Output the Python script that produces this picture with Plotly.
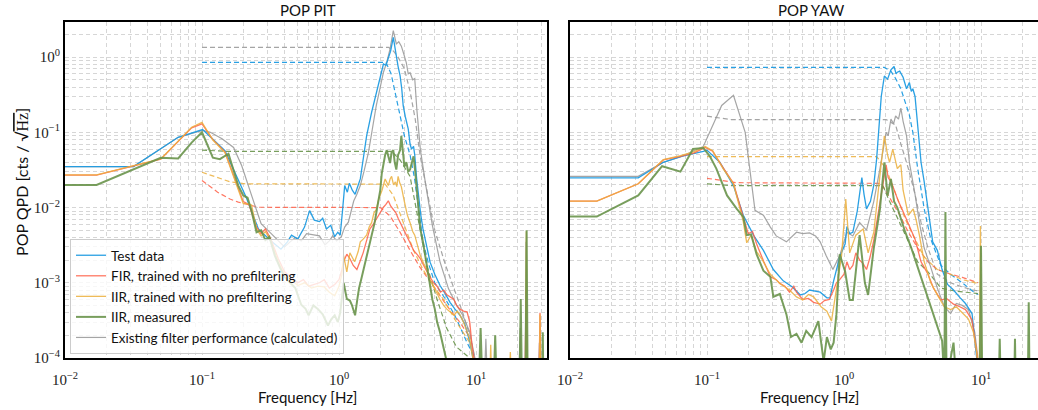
import plotly.graph_objects as go

# ---------------- POP PIT (left panel) ----------------
PIT_TEST_F = [0.01, 0.0316, 0.067, 0.101, 0.147, 0.184, 0.21, 0.258, 0.313, 0.377, 0.42, 0.45, 0.5, 0.56, 0.61, 0.66, 0.72, 0.76, 0.81, 0.87, 0.93, 0.98, 1.02, 1.06, 1.1, 1.15, 1.19, 1.25, 1.31, 1.43, 1.5, 1.59, 1.73, 1.85, 1.94, 2.03, 2.11, 2.2, 2.29, 2.38, 2.49, 2.55, 2.62, 2.7, 2.79, 2.87, 2.94, 3.05, 3.2, 3.3, 3.38, 3.5, 3.57, 3.68, 3.79, 3.95, 4.1, 4.35, 4.62, 5.0, 5.46, 6.0, 6.46, 7.0, 7.64, 8.3, 9.04, 9.6, 32]
PIT_TEST_V = [0.035, 0.035, 0.086, 0.109, 0.057, 0.024, 0.0137, 0.0052, 0.0037, 0.0028, 0.0035, 0.0043, 0.0038, 0.0055, 0.0091, 0.0068, 0.0065, 0.0072, 0.0052, 0.0058, 0.0041, 0.0047, 0.0043, 0.009, 0.0196, 0.016, 0.021, 0.017, 0.015, 0.024, 0.045, 0.09, 0.185, 0.3, 0.46, 0.62, 0.81, 0.78, 0.95, 1.2, 1.83, 1.3, 1.04, 0.75, 0.57, 0.38, 0.226, 0.16, 0.111, 0.07, 0.06, 0.065, 0.05, 0.025, 0.0145, 0.008, 0.0052, 0.003, 0.00188, 0.0013, 0.00092, 0.0007, 0.00055, 0.00045, 0.00037, 0.00028, 0.00016, 0.00009, 0.00005]

PIT_FIR_F = [0.01, 0.017, 0.05, 0.084, 0.1, 0.12, 0.147, 0.173, 0.2, 0.22, 0.25, 0.27, 0.29, 0.32, 0.36, 0.4, 0.44, 0.5, 0.55, 0.6, 0.66, 0.72, 0.78, 0.85, 0.93, 1.0, 1.04, 1.08, 1.14, 1.2, 1.27, 1.35, 1.42, 1.5, 1.58, 1.68, 1.78, 1.87, 1.97, 2.05, 2.11, 2.2, 2.29, 2.38, 2.49, 2.6, 2.7, 2.79, 2.9, 3.0, 3.1, 3.3, 3.5, 3.7, 3.92, 4.15, 4.38, 4.6, 4.9, 5.2, 5.5, 5.8, 6.1, 6.5, 6.9, 7.2, 7.6, 8.1, 8.6, 9.0, 9.3, 9.8, 22.8, 23.2, 23.6, 28.8, 29.3, 29.8, 32]
PIT_FIR_V = [0.027, 0.027, 0.044, 0.115, 0.13, 0.08, 0.055, 0.025, 0.012, 0.011, 0.0055, 0.0045, 0.0052, 0.0037, 0.0021, 0.0014, 0.0012, 0.001, 0.0011, 0.0009, 0.00095, 0.001, 0.0011, 0.00085, 0.00095, 0.0011, 0.0014, 0.0019, 0.0024, 0.0021, 0.0017, 0.0015, 0.0019, 0.0025, 0.0035, 0.0052, 0.006, 0.007, 0.0085, 0.0095, 0.0101, 0.011, 0.0123, 0.0105, 0.0095, 0.0085, 0.0072, 0.0063, 0.0055, 0.0048, 0.0043, 0.0034, 0.0027, 0.0024, 0.0021, 0.0017, 0.0014, 0.0012, 0.001, 0.0009, 0.00075, 0.0008, 0.0007, 0.00065, 0.0006, 0.0005, 0.00045, 0.00042, 0.00041, 0.0003, 0.00016, 0.00008, 0.00005, 0.0008, 0.00005, 0.00005, 0.0004, 0.00005, 0.00005]

PIT_IIR_F = [0.01, 0.017, 0.05, 0.084, 0.1, 0.12, 0.147, 0.173, 0.2, 0.215, 0.23, 0.25, 0.27, 0.29, 0.32, 0.36, 0.4, 0.45, 0.5, 0.56, 0.63, 0.7, 0.78, 0.85, 0.93, 1.0, 1.05, 1.08, 1.14, 1.2, 1.3, 1.38, 1.43, 1.5, 1.59, 1.66, 1.73, 1.8, 1.87, 1.95, 2.06, 2.17, 2.23, 2.29, 2.36, 2.42, 2.5, 2.58, 2.64, 2.7, 2.78, 2.85, 3.0, 3.15, 3.3, 3.45, 3.57, 3.75, 3.92, 4.15, 4.38, 4.6, 4.9, 5.2, 5.46, 5.8, 6.1, 6.5, 6.9, 7.3, 7.6, 8.1, 8.6, 9.0, 9.3, 9.8, 12.6, 12.8, 13.0, 17.5, 17.8, 18.1, 23.0, 23.3, 23.6, 29.0, 29.3, 29.6, 32]
PIT_IIR_V = [0.0272, 0.0272, 0.0443, 0.117, 0.136, 0.079, 0.054, 0.024, 0.0113, 0.0113, 0.0108, 0.0052, 0.0042, 0.0048, 0.0035, 0.0019, 0.0013, 0.0011, 0.00092, 0.001, 0.00085, 0.0009, 0.00088, 0.00075, 0.00067, 0.0009, 0.0013, 0.0023, 0.0014, 0.0025, 0.0019, 0.0026, 0.0035, 0.0038, 0.0043, 0.0055, 0.0063, 0.0085, 0.0094, 0.013, 0.017, 0.024, 0.021, 0.0196, 0.024, 0.026, 0.02, 0.022, 0.019, 0.026, 0.021, 0.019, 0.012, 0.008, 0.0063, 0.0048, 0.0043, 0.003, 0.0023, 0.0018, 0.0015, 0.0011, 0.0009, 0.00072, 0.0006, 0.0005, 0.00045, 0.0004, 0.00037, 0.00042, 0.00038, 0.0003, 0.00022, 0.00018, 0.00012, 0.00007, 0.00005, 0.00015, 0.00005, 0.00005, 0.00012, 0.00005, 0.00005, 0.0048, 0.00005, 0.00005, 0.00038, 0.00005, 0.00005]

PIT_MEAS_F = [0.01, 0.017, 0.05, 0.067, 0.084, 0.1, 0.12, 0.135, 0.156, 0.184, 0.2, 0.215, 0.23, 0.25, 0.27, 0.29, 0.31, 0.34, 0.37, 0.4, 0.44, 0.48, 0.53, 0.57, 0.6, 0.65, 0.7, 0.76, 0.83, 0.88, 0.93, 0.98, 1.02, 1.08, 1.14, 1.2, 1.24, 1.31, 1.36, 1.4, 1.45, 1.51, 1.6, 1.68, 1.75, 1.82, 1.9, 2.0, 2.05, 2.11, 2.17, 2.23, 2.3, 2.36, 2.42, 2.49, 2.55, 2.62, 2.7, 2.79, 2.85, 2.92, 3.0, 3.1, 3.2, 3.3, 3.4, 3.5, 3.6, 3.7, 3.8, 3.92, 4.1, 4.26, 4.45, 4.6, 4.8, 5.0, 5.2, 5.46, 5.7, 5.9, 6.2, 10.5, 10.8, 11.1, 13.5, 13.8, 14.1, 20.8, 21.2, 21.6, 23.0, 23.4, 23.8, 30.4, 30.7, 31.0, 32]
PIT_MEAS_V = [0.02, 0.02, 0.046, 0.045, 0.073, 0.1, 0.046, 0.044, 0.052, 0.0196, 0.0145, 0.0135, 0.009, 0.0047, 0.005, 0.0037, 0.0041, 0.0023, 0.0016, 0.0012, 0.001, 0.00085, 0.00051, 0.00045, 0.00037, 0.0005, 0.00045, 0.00038, 0.00027, 0.00033, 0.00037, 0.0003, 0.0004, 0.001, 0.00061, 0.00058, 0.00051, 0.00037, 0.0006, 0.00085, 0.0011, 0.0015, 0.0025, 0.0037, 0.005, 0.0063, 0.01, 0.017, 0.028, 0.039, 0.05, 0.058, 0.045, 0.039, 0.055, 0.058, 0.04, 0.032, 0.05, 0.058, 0.09, 0.05, 0.035, 0.04, 0.03, 0.032, 0.038, 0.048, 0.03, 0.017, 0.009, 0.0052, 0.0035, 0.0023, 0.0014, 0.0009, 0.0006, 0.00045, 0.0003, 0.00022, 0.00015, 0.00011, 0.00008, 0.00005, 0.00025, 0.00005, 0.00005, 0.0002, 0.00005, 0.00005, 0.00061, 0.00005, 0.00005, 0.005, 0.00005, 0.00005, 0.00022, 0.00005, 0.00005]

PIT_EXIST_F = [0.01, 0.0316, 0.067, 0.101, 0.115, 0.14, 0.17, 0.195, 0.23, 0.27, 0.32, 0.36, 0.4, 0.44, 0.48, 0.53, 0.58, 0.67, 0.72, 0.79, 0.85, 0.9, 0.96, 1.04, 1.1, 1.17, 1.28, 1.35, 1.43, 1.52, 1.64, 1.75, 1.87, 2.0, 2.11, 2.23, 2.36, 2.49, 2.62, 2.73, 2.85, 2.97, 3.1, 3.2, 3.3, 3.45, 3.57, 3.7, 3.92, 4.26, 4.8, 5.46, 6.3, 7.24, 8.0, 9.0, 9.8, 11.5, 11.8, 12.1, 20.5, 21.0, 21.5, 22.8, 23.2, 23.6, 28.5, 29.0, 29.5, 32]
PIT_EXIST_V = [0.035, 0.035, 0.086, 0.106, 0.1, 0.082, 0.063, 0.036, 0.0145, 0.0061, 0.0045, 0.0036, 0.003, 0.0035, 0.004, 0.0036, 0.0045, 0.0043, 0.0042, 0.0032, 0.0036, 0.0042, 0.0036, 0.0041, 0.0055, 0.0064, 0.0122, 0.015, 0.0196, 0.03, 0.054, 0.11, 0.226, 0.4, 0.63, 0.85, 1.3, 2.25, 1.5, 1.6, 1.4, 1.1, 0.84, 0.6, 0.62, 0.5, 0.52, 0.2, 0.06, 0.022, 0.0058, 0.0019, 0.00083, 0.0005, 0.00037, 0.00022, 0.0001, 0.00005, 0.00018, 0.00005, 0.00005, 0.00025, 0.00005, 0.00005, 0.0035, 0.00005, 0.00005, 0.00016, 0.00005, 0.00005]

# cumulative (dashed) curves, PIT
PIT_TEST_CUM_F = [0.1, 2.2, 2.4, 2.6, 2.8, 3.0, 3.3, 3.55, 3.8, 4.1, 4.5, 5.0, 6.0, 7.0, 8.6, 9.8]
PIT_TEST_CUM_V = [0.85, 0.85, 0.6, 0.3, 0.15, 0.09, 0.05, 0.025, 0.01, 0.0035, 0.0018, 0.001, 0.0006, 0.00037, 0.00016, 0.0001]
PIT_FIR_CUM_F = [0.1, 0.13, 0.16, 0.184, 0.258, 2.0, 2.36, 2.79, 3.3, 3.9, 4.9, 6.1, 7.6, 9.0]
PIT_FIR_CUM_V = [0.0229, 0.016, 0.013, 0.0118, 0.0101, 0.01, 0.0077, 0.0047, 0.0027, 0.0016, 0.0009, 0.0005, 0.0003, 0.00019]
PIT_IIR_CUM_F = [0.1, 0.13, 0.16, 0.207, 2.17, 2.49, 2.94, 3.5, 4.1, 4.9, 5.8, 7.2, 9.0]
PIT_IIR_CUM_V = [0.0295, 0.025, 0.022, 0.0207, 0.0205, 0.0145, 0.0063, 0.0027, 0.0015, 0.0009, 0.0006, 0.0003, 0.00016]
PIT_MEAS_CUM_F = [0.1, 0.15, 2.42, 2.79, 3.3, 3.8, 4.38, 5.2, 6.1, 7.2, 9.0]
PIT_MEAS_CUM_V = [0.058, 0.056, 0.056, 0.043, 0.026, 0.0063, 0.0017, 0.0006, 0.00025, 0.00014, 0.0001]
PIT_EXIST_CUM_F = [0.1, 2.3, 2.5, 2.7, 3.0, 3.3, 3.6, 3.9, 4.3, 5.0, 6.0, 7.0, 8.0, 9.0, 9.8]
PIT_EXIST_CUM_V = [1.35, 1.35, 1.2, 1.0, 0.7, 0.35, 0.15, 0.05, 0.02, 0.005, 0.0017, 0.0008, 0.0004, 0.0002, 0.0001]

# ---------------- POP YAW (right panel) ----------------
YAW_TEST_F = [0.01, 0.0315, 0.048, 0.064, 0.094, 0.1, 0.124, 0.156, 0.184, 0.22, 0.258, 0.305, 0.36, 0.42, 0.48, 0.52, 0.56, 0.62, 0.67, 0.75, 0.79, 0.84, 0.885, 0.93, 1.02, 1.05, 1.1, 1.16, 1.25, 1.35, 1.4, 1.46, 1.56, 1.65, 1.73, 1.8, 1.87, 1.97, 2.08, 2.2, 2.32, 2.4, 2.45, 2.55, 2.7, 2.86, 3.0, 3.1, 3.18, 3.3, 3.45, 3.65, 3.85, 4.1, 4.44, 4.8, 5.2, 5.7, 6.3, 7.0, 7.7, 8.6, 9.3, 10.0]
YAW_TEST_V = [0.0248, 0.0248, 0.04, 0.0475, 0.056, 0.058, 0.04, 0.0196, 0.0079, 0.0042, 0.0027, 0.0015, 0.00106, 0.00088, 0.00069, 0.00072, 0.0008, 0.00078, 0.00075, 0.00063, 0.00063, 0.00106, 0.0015, 0.0022, 0.0033, 0.0056, 0.0045, 0.0047, 0.009, 0.025, 0.015, 0.0096, 0.0121, 0.02, 0.044, 0.12, 0.3, 0.56, 0.51, 0.68, 0.75, 0.6, 0.63, 0.65, 0.54, 0.38, 0.46, 0.35, 0.38, 0.3, 0.11, 0.04, 0.022, 0.0096, 0.0035, 0.0027, 0.0015, 0.00095, 0.0008, 0.00064, 0.00053, 0.00039, 0.0001, 0.00005]

YAW_FIR_F = [0.01, 0.0157, 0.0315, 0.048, 0.064, 0.08, 0.097, 0.11, 0.131, 0.156, 0.184, 0.2, 0.215, 0.23, 0.26, 0.29, 0.32, 0.34, 0.37, 0.4, 0.43, 0.45, 0.5, 0.55, 0.6, 0.67, 0.72, 0.78, 0.84, 0.88, 0.93, 1.0, 1.05, 1.1, 1.16, 1.22, 1.3, 1.38, 1.46, 1.55, 1.65, 1.75, 1.83, 1.92, 2.03, 2.1, 2.2, 2.3, 2.38, 2.5, 2.65, 2.8, 2.95, 3.1, 3.3, 3.45, 3.65, 3.85, 4.1, 4.5, 5.1, 5.6, 6.3, 7.0, 7.7, 8.6, 9.3, 9.7, 32]
YAW_FIR_V = [0.0122, 0.0122, 0.0207, 0.043, 0.048, 0.053, 0.063, 0.056, 0.034, 0.021, 0.0075, 0.0045, 0.0048, 0.0033, 0.0019, 0.0012, 0.0011, 0.00098, 0.0009, 0.00075, 0.0009, 0.00075, 0.0006, 0.00062, 0.00055, 0.00052, 0.00058, 0.0006, 0.0008, 0.001, 0.0011, 0.0013, 0.0019, 0.0015, 0.0017, 0.0025, 0.002, 0.0018, 0.0015, 0.0022, 0.0037, 0.007, 0.013, 0.02, 0.037, 0.025, 0.022, 0.018, 0.015, 0.012, 0.0096, 0.0075, 0.0063, 0.005, 0.0038, 0.0028, 0.0019, 0.0016, 0.0013, 0.00085, 0.00059, 0.00062, 0.00052, 0.00048, 0.00044, 0.00032, 0.00012, 0.00005, 0.00005]

YAW_IIR_F = [0.01, 0.0157, 0.0315, 0.048, 0.064, 0.08, 0.097, 0.11, 0.131, 0.156, 0.184, 0.195, 0.21, 0.23, 0.25, 0.29, 0.34, 0.4, 0.45, 0.5, 0.55, 0.6, 0.68, 0.75, 0.81, 0.885, 0.96, 1.03, 1.1, 1.22, 1.38, 1.5, 1.65, 1.83, 1.97, 2.08, 2.15, 2.27, 2.35, 2.45, 2.6, 2.7, 2.95, 3.2, 3.35, 3.55, 3.85, 4.3, 4.8, 5.4, 6.0, 6.6, 7.3, 8.1, 8.8, 9.3, 9.7, 9.9, 10.1, 32]
YAW_IIR_V = [0.0122, 0.0122, 0.0207, 0.0434, 0.049, 0.055, 0.0649, 0.057, 0.033, 0.0207, 0.0065, 0.0034, 0.0043, 0.0026, 0.0021, 0.0013, 0.00098, 0.0008, 0.00065, 0.00059, 0.0007, 0.00065, 0.00048, 0.00042, 0.00031, 0.00085, 0.0023, 0.013, 0.0025, 0.0043, 0.0052, 0.0025, 0.0047, 0.027, 0.09, 0.05, 0.04, 0.06, 0.045, 0.033, 0.037, 0.017, 0.0079, 0.0096, 0.007, 0.0043, 0.0019, 0.001, 0.00069, 0.00048, 0.00044, 0.00048, 0.0004, 0.00033, 0.00022, 0.00012, 0.00005, 0.0057, 0.00005, 0.00005]

YAW_MEAS_F = [0.01, 0.0157, 0.0315, 0.047, 0.064, 0.079, 0.094, 0.105, 0.117, 0.14, 0.165, 0.184, 0.195, 0.21, 0.23, 0.258, 0.29, 0.305, 0.34, 0.38, 0.41, 0.45, 0.49, 0.53, 0.58, 0.65, 0.71, 0.75, 0.8, 0.84, 0.88, 0.93, 1.02, 1.1, 1.16, 1.3, 1.42, 1.5, 1.65, 1.83, 1.97, 2.08, 2.2, 2.32, 2.45, 2.55, 2.8, 3.1, 3.45, 3.85, 4.3, 4.8, 5.2, 5.4, 5.5, 5.6, 6.3, 6.6, 9.8, 10.0, 10.2, 13.5, 13.7, 13.9, 17.5, 17.7, 17.9, 22.0, 22.3, 22.6, 32]
YAW_MEAS_V = [0.0076, 0.0076, 0.0145, 0.0355, 0.03, 0.06, 0.062, 0.048, 0.033, 0.0145, 0.0096, 0.0075, 0.0043, 0.0044, 0.0024, 0.00145, 0.0012, 0.00065, 0.00071, 0.00038, 0.00019, 0.00021, 0.00016, 0.00023, 0.00019, 0.00031, 0.00009, 0.00019, 0.00013, 0.00016, 0.00038, 0.0024, 0.0014, 0.00059, 0.00059, 0.0043, 0.001, 0.00069, 0.0029, 0.0096, 0.04, 0.0145, 0.024, 0.0121, 0.01, 0.0079, 0.0047, 0.0029, 0.0016, 0.00085, 0.00048, 0.00026, 0.00017, 0.00005, 0.0087, 0.00005, 0.00016, 0.00005, 0.00005, 0.0031, 0.00005, 0.00005, 0.00018, 0.00005, 0.00005, 0.00018, 0.00005, 0.00005, 0.00055, 0.00005, 0.00005]

YAW_EXIST_F = [0.01, 0.0315, 0.048, 0.064, 0.094, 0.128, 0.156, 0.19, 0.224, 0.258, 0.29, 0.32, 0.38, 0.45, 0.5, 0.56, 0.62, 0.67, 0.74, 0.83, 0.93, 1.05, 1.16, 1.3, 1.46, 1.65, 1.83, 1.95, 2.03, 2.1, 2.2, 2.3, 2.38, 2.5, 2.6, 2.7, 2.86, 3.0, 3.15, 3.3, 3.55, 3.85, 4.3, 4.8, 5.4, 6.0, 6.6, 7.3, 8.1, 9.0, 9.5, 10.0]
YAW_EXIST_V = [0.026, 0.026, 0.04, 0.047, 0.065, 0.228, 0.31, 0.1, 0.0092, 0.0079, 0.0055, 0.0042, 0.0035, 0.0047, 0.0045, 0.0046, 0.0042, 0.0035, 0.0023, 0.0015, 0.0023, 0.0047, 0.0042, 0.0063, 0.005, 0.0121, 0.033, 0.07, 0.1, 0.09, 0.15, 0.13, 0.165, 0.15, 0.21, 0.14, 0.09, 0.04, 0.025, 0.015, 0.0063, 0.0029, 0.0016, 0.00085, 0.00048, 0.00039, 0.00053, 0.0005, 0.00044, 0.00022, 0.0001, 0.00005]

YAW_TEST_CUM_F = [0.1, 1.97, 2.2, 2.38, 2.6, 2.8, 3.0, 3.18, 3.45, 3.85, 4.3, 5.1, 6.0, 7.3, 8.8, 9.5]
YAW_TEST_CUM_V = [0.73, 0.73, 0.65, 0.52, 0.38, 0.255, 0.17, 0.1, 0.033, 0.0096, 0.0038, 0.0017, 0.0013, 0.001, 0.00076, 0.0007]
YAW_FIR_CUM_F = [0.1, 0.165, 1.87, 2.15, 2.55, 2.95, 3.45, 4.1, 4.8, 6.0, 7.3, 8.8, 9.5]
YAW_FIR_CUM_V = [0.0245, 0.0214, 0.021, 0.0135, 0.008, 0.0047, 0.0029, 0.0019, 0.0015, 0.0013, 0.00118, 0.00105, 0.001]
YAW_IIR_CUM_F = [0.1, 1.73, 2.03, 2.38, 2.8, 3.3, 3.85, 4.8, 6.0, 7.3, 8.8, 9.5]
YAW_IIR_CUM_V = [0.0476, 0.0476, 0.033, 0.015, 0.007, 0.0038, 0.0022, 0.0015, 0.0013, 0.0011, 0.001, 0.00098]
YAW_MEAS_CUM_F = [0.1, 0.15, 1.92, 2.15, 2.55, 2.95, 3.45, 4.1, 5.1, 6.6, 8.8, 9.5]
YAW_MEAS_CUM_V = [0.0207, 0.0196, 0.0196, 0.0121, 0.0063, 0.0035, 0.0019, 0.0014, 0.00085, 0.00077, 0.00073, 0.00072]
YAW_EXIST_CUM_F = [0.1, 0.15, 2.03, 2.38, 2.6, 2.95, 3.3, 3.65, 4.1, 4.8, 6.0, 7.3, 8.8, 9.5]
YAW_EXIST_CUM_V = [0.164, 0.148, 0.148, 0.125, 0.07, 0.033, 0.015, 0.0063, 0.0029, 0.0013, 0.001, 0.00088, 0.0008, 0.00078]

LABELS = ["Test data", "FIR, trained with no prefiltering", "IIR, trained with no prefiltering",
          "IIR, measured", "Existing filter performance (calculated)"]
X_TICKS = [0.01, 0.1, 1, 10]
X_TICKTEXT = ["10<sup>\u22122</sup>", "10<sup>\u22121</sup>", "10<sup>0</sup>", "10<sup>1</sup>"]
Y_TICKS = [1e-4, 1e-3, 1e-2, 1e-1, 1]
Y_TICKTEXT = ["10<sup>\u22124</sup>", "10<sup>\u22123</sup>", "10<sup>\u22122</sup>", "10<sup>\u22121</sup>", "10<sup>0</sup>"]

COLORS = ["rgba(30,155,225,0.95)", "rgba(255,95,70,0.85)", "rgba(235,175,60,0.85)",
          "rgba(105,148,75,0.9)", "rgba(155,155,155,0.9)"]
WIDTHS = [1.3, 1.3, 1.3, 2.0, 1.2]

fig = go.Figure()

panels = [
    ("x", "y", [(PIT_EXIST_F, PIT_EXIST_V), (PIT_TEST_F, PIT_TEST_V), (PIT_FIR_F, PIT_FIR_V),
                (PIT_IIR_F, PIT_IIR_V), (PIT_MEAS_F, PIT_MEAS_V)],
     [(PIT_EXIST_CUM_F, PIT_EXIST_CUM_V), (PIT_TEST_CUM_F, PIT_TEST_CUM_V), (PIT_FIR_CUM_F, PIT_FIR_CUM_V),
      (PIT_IIR_CUM_F, PIT_IIR_CUM_V), (PIT_MEAS_CUM_F, PIT_MEAS_CUM_V)], True),
    ("x2", "y2", [(YAW_EXIST_F, YAW_EXIST_V), (YAW_TEST_F, YAW_TEST_V), (YAW_FIR_F, YAW_FIR_V),
                  (YAW_IIR_F, YAW_IIR_V), (YAW_MEAS_F, YAW_MEAS_V)],
     [(YAW_EXIST_CUM_F, YAW_EXIST_CUM_V), (YAW_TEST_CUM_F, YAW_TEST_CUM_V), (YAW_FIR_CUM_F, YAW_FIR_CUM_V),
      (YAW_IIR_CUM_F, YAW_IIR_CUM_V), (YAW_MEAS_CUM_F, YAW_MEAS_CUM_V)], False),
]
order = [4, 0, 1, 2, 3]  # series index for each position in the lists (exist, test, fir, iir, meas)

for xa, ya, solids, dashes, show in panels:
    for pos, (fx, vy) in enumerate(dashes):
        k = order[pos]
        fig.add_trace(go.Scatter(x=fx, y=vy, mode="lines", xaxis=xa, yaxis=ya, showlegend=False,
                                 line=dict(color=COLORS[k], width=1.2, dash="5px,3px")))
    for pos, (fx, vy) in enumerate(solids):
        k = order[pos]
        fig.add_trace(go.Scatter(x=fx, y=vy, mode="lines", xaxis=xa, yaxis=ya, name=LABELS[k],
                                 showlegend=show, legendrank=k + 1,
                                 line=dict(color=COLORS[k], width=WIDTHS[k])))

W, H = 1038, 410
ML, MT, MB = 65, 22, 52
PW = W - ML
grid = dict(gridcolor="#d6d6d6", griddash="4px,3px", gridwidth=1)
tickfont = dict(family="Liberation Serif", size=15, color="#222")
SANS = "Lato"

def xax(domain, rng, mirror):
    return dict(type="log", domain=domain, range=rng, showline=True, linecolor="black", linewidth=2,
                mirror=mirror, ticks="", tickvals=X_TICKS, ticktext=X_TICKTEXT, tickfont=tickfont,
                ticklabelstandoff=7,
                showgrid=True, **grid, minor=dict(dtick="D1", showgrid=True, **grid), zeroline=False)

def yax(anchor, show_labels, mirror):
    return dict(type="log", range=[-4, 0.467], anchor=anchor, showline=True, linecolor="black", linewidth=2,
                mirror=mirror, ticks="", tickvals=Y_TICKS, ticktext=Y_TICKTEXT, tickfont=tickfont,
                showticklabels=show_labels, showgrid=True, **grid,
                minor=dict(dtick="D1", showgrid=True, **grid), zeroline=False)

x1dom = [0, (547 - ML) / PW]
x2dom = [(570 - ML) / PW, 1.0]
fig.update_layout(
    width=W, height=H, margin=dict(l=ML, r=0, t=MT, b=MB),
    paper_bgcolor="white", plot_bgcolor="white",
    xaxis=xax(x1dom, [-2, 1.518], True),
    xaxis2=xax(x2dom, [-2, 1.416], True),
    yaxis=yax("x", True, True),
    yaxis2=yax("x2", False, False),
    legend=dict(x=5 / PW, y=0.012, xanchor="left", yanchor="bottom",
                bgcolor="rgba(255,255,255,0.8)", bordercolor="#cccccc", borderwidth=1,
                font=dict(family=SANS, size=13.5, color="#111"), tracegroupgap=0),
    font=dict(family=SANS, color="#111"),
)

ann_font = dict(family=SANS, size=15, color="#111")
fig.add_annotation(text="POP PIT", xref="paper", yref="paper", x=(308 - ML) / PW, y=1, xanchor="center",
                   yanchor="bottom", yshift=1, showarrow=False, font=ann_font)
fig.add_annotation(text="POP YAW", xref="paper", yref="paper", x=(811 - ML) / PW, y=1, xanchor="center",
                   yanchor="bottom", yshift=1, showarrow=False, font=ann_font)
fig.add_annotation(text="Frequency [Hz]", xref="paper", yref="paper", x=(307 - ML) / PW, y=-(397 - 358) / 336,
                   xanchor="center", yanchor="middle", showarrow=False, font=ann_font)
fig.add_annotation(text="Frequency [Hz]", xref="paper", yref="paper", x=(809 - ML) / PW, y=-(397 - 358) / 336,
                   xanchor="center", yanchor="middle", showarrow=False, font=ann_font)
fig.add_annotation(text="POP QPD [cts / \u221a<span style='font-family:Liberation Serif;text-decoration:overline'>Hz</span>]",
                   xref="paper", yref="paper", x=-(65 - 22) / PW, y=0.524, textangle=-90,
                   xanchor="center", yanchor="middle", showarrow=False, font=dict(family=SANS, size=16, color="#111"))

fig.write_html("out.html")
